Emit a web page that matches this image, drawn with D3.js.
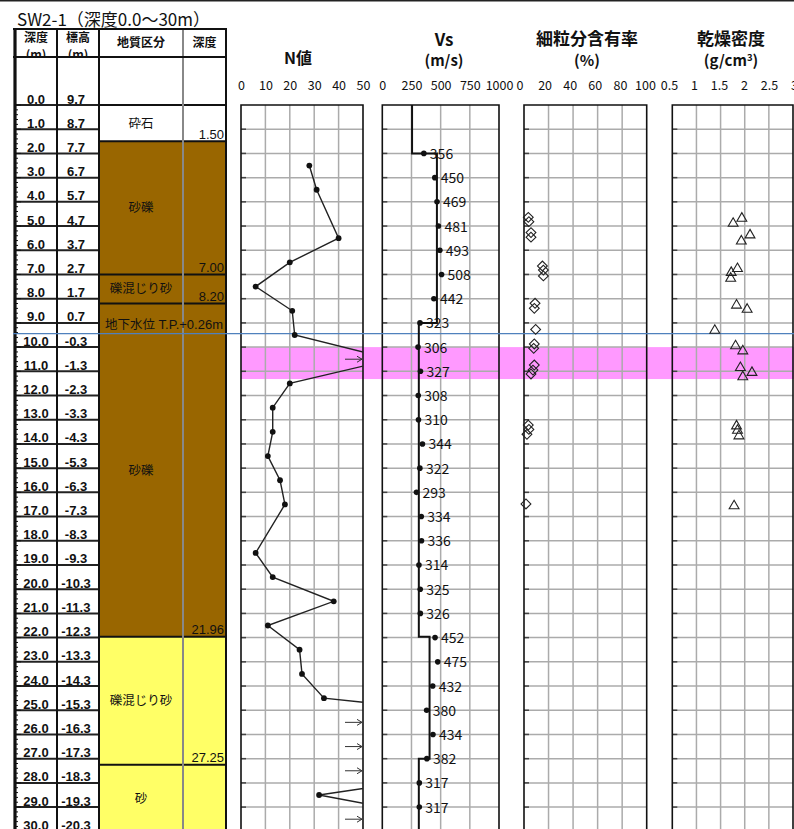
<!DOCTYPE html>
<html>
<head>
<meta charset="utf-8">
<script src="https://cdn.jsdelivr.net/npm/d3@7"></script>
<style>
body { margin: 0; background: #fff; }
svg { display: block; }
text { font-family: "Noto Sans CJK JP", "Noto Sans", sans-serif; fill: #111; }
.num { font-family: "Liberation Sans", Arial, sans-serif; }
.lbl { font-family: "Open Sans", sans-serif; }
</style>
</head>
<body>
<div id="chart"></div>
<script>
var title = "SW2-1（深度0.0～30m）";

var depthLabels = ["0.0","1.0","2.0","3.0","4.0","5.0","6.0","7.0","8.0","9.0","10.0",
  "11.0","12.0","13.0","14.0","15.0","16.0","17.0","18.0","19.0","20.0",
  "21.0","22.0","23.0","24.0","25.0","26.0","27.0","28.0","29.0","30.0"];
var elevLabels = ["9.7","8.7","7.7","6.7","5.7","4.7","3.7","2.7","1.7","0.7","-0.3",
  "-1.3","-2.3","-3.3","-4.3","-5.3","-6.3","-7.3","-8.3","-9.3","-10.3",
  "-11.3","-12.3","-13.3","-14.3","-15.3","-16.3","-17.3","-18.3","-19.3","-20.3"];

// geology
var layerTop    = [0, 1.5, 7.0, 8.2, 21.96, 27.25];
var layerBottom = [1.5, 7.0, 8.2, 21.96, 27.25, 30];
var layerName   = ["砕石", "砂礫", "礫混じり砂", "砂礫", "礫混じり砂", "砂"];
var layerDepthText = ["1.50", "7.00", "8.20", "21.96", "27.25", ""];

var waterDepth = 9.44;
var waterText = ["地下水位", "T.P.+0.26m"];
var bandTop = 10.0, bandBottom = 11.32;

// N value
var nDepth = [2.5, 3.5, 5.5, 6.5, 7.5, 8.5, 9.5, 10.5, 11.5, 12.5, 13.5, 14.5, 15.5, 16.5,
  18.5, 19.5, 20.5, 21.5, 22.5, 23.5, 24.5, 25.5, 26.5, 27.5, 28.5, 29.5];
var nValue = [28, 31, 40, 20, 6, 21, 22, 62, 20, 13, 13, 11, 16, 18,
  6, 13, 38, 11, 24, 25, 34, 130, 130, 100, 32, 85];
var nTicks = [0, 10, 20, 30, 40, 50];

// Vs
var vsDepth = [2, 3, 4, 5, 6, 7, 8, 9, 10, 11, 12, 13, 14, 15, 16, 17, 18, 19, 20, 21,
  22, 23, 24, 25, 26, 27, 28, 29];
var vsValue = [356, 450, 469, 481, 493, 508, 442, 323, 306, 327, 308, 310, 344, 322,
  293, 334, 336, 314, 325, 326, 452, 475, 432, 380, 434, 382, 317, 317];
var vsStepTop   = [0, 2, 9, 21.96, 27, 30];
var vsStepValue = [255, 468, 313, 405, 313, 313];
var vsTicks = [0, 250, 500, 750, 1000];

// fines content (%)
var fcDepth = [4.64, 4.82, 5.27, 5.46, 6.65, 6.82, 7.06, 8.19, 8.4, 9.27, 9.87, 10.05,
  10.74, 10.95, 11.11, 13.22, 13.4, 13.6, 16.48];
var fcValue = [3.5, 4.0, 5.7, 5.7, 15, 15.8, 15.8, 9, 8.4, 9.5, 8.4, 7.9,
  8.4, 7.3, 5.7, 3.5, 4.0, 2.4, 1.6];
var fcTicks = [0, 20, 40, 60, 80, 100];

// dry density (g/cm3)
var rhoDepth = [4.64, 4.85, 5.33, 5.58, 6.72, 6.88, 7.12, 8.23, 8.4, 9.27, 9.91, 10.12,
  10.81, 11.01, 11.19, 13.22, 13.4, 13.63, 16.52];
var rhoValue = [1.94, 1.76, 2.11, 1.93, 1.85, 1.72, 1.71, 1.83, 2.05, 1.38, 1.81, 1.96,
  1.91, 2.15, 1.96, 1.83, 1.85, 1.88, 1.78];
var rhoTicks = [0.5, 1, 1.5, 2, 2.5, 3];

// ---- layout ----
var width = 794, height = 829;
var layerFill = ["#ffffff", "#996600", "#996600", "#996600", "#ffff66", "#ffff66"];

var svg = d3.select("#chart").append("svg")
  .attr("width", width)
  .attr("height", height);

var y = d3.scaleLinear().domain([0, 30]).range([105, 831.3]);

var xN   = d3.scaleLinear().domain([0, 50]).range([241, 363]);
var xVs  = d3.scaleLinear().domain([0, 1000]).range([382.3, 499]);
var xFc  = d3.scaleLinear().domain([0, 100]).range([524, 646.7]);
var xRho = d3.scaleLinear().domain([0.5, 3]).range([672.3, 793]);
// tick labels of the last two panels sit a little off the grid
var xFcLab  = d3.scaleLinear().domain([0, 100]).range([519.5, 645]);
var xRhoLab = d3.scaleLinear().domain([0.5, 3]).range([669, 794]);

var depthNums = depthLabels.map(Number);

// top rule
svg.append("line").attr("x1", 0).attr("x2", width).attr("y1", 0.75).attr("y2", 0.75)
  .attr("stroke", "#222").attr("stroke-width", 1.5);

svg.append("text").attr("x", 17).attr("y", 26)
  .attr("font-size", 17).attr("textLength", 193).attr("lengthAdjust", "spacingAndGlyphs")
  .text(title);

// ---- left table ----
var tbl = svg.append("g");

tbl.selectAll("rect.layer")
  .data(layerTop).enter()
  .append("rect")
  .attr("class", "layer")
  .attr("x", 99).attr("width", 127)
  .attr("y", function(d) { return y(d); })
  .attr("height", function(d, i) { return y(layerBottom[i]) - y(d); })
  .attr("fill", function(d, i) { return layerFill[i]; });

// row lines in depth / elevation columns
tbl.selectAll("line.row")
  .data(depthNums.slice(0, 30)).enter()
  .append("line")
  .attr("x1", 14).attr("x2", 99)
  .attr("y1", function(d) { return y(d); })
  .attr("y2", function(d) { return y(d); })
  .attr("stroke", "#222").attr("stroke-width", 2);

// ruler ticks on the left edge
tbl.selectAll("line.rule")
  .data(y.ticks(150)).enter()
  .append("line")
  .attr("x1", 15)
  .attr("x2", function(d) { return Math.abs(d - Math.round(d)) < 1e-6 ? 21 : 18; })
  .attr("y1", function(d) { return y(d); })
  .attr("y2", function(d) { return y(d); })
  .attr("stroke", "#111").attr("stroke-width", 1);

// layer boundaries
tbl.selectAll("line.bound")
  .data([0].concat(layerBottom.slice(0, 5))).enter()
  .append("line")
  .attr("x1", 99).attr("x2", 226)
  .attr("y1", function(d) { return y(d); })
  .attr("y2", function(d) { return y(d); })
  .attr("stroke", "#111").attr("stroke-width", 2);

// column lines
tbl.append("line").attr("x1", 183).attr("x2", 183).attr("y1", 29).attr("y2", height)
  .attr("stroke", "#888").attr("stroke-width", 2);
[[15, 3.2], [57, 2], [99, 2], [226, 2]].forEach(function(c) {
  tbl.append("line").attr("x1", c[0]).attr("x2", c[0]).attr("y1", 28).attr("y2", height)
    .attr("stroke", "#111").attr("stroke-width", c[1]);
});

// header (the unit line is cut by the header's lower rule, as in the print)
svg.append("clipPath").attr("id", "clipHead")
  .append("rect").attr("x", 14).attr("y", 30).attr("width", 212).attr("height", 26);

var head = tbl.append("g").attr("font-size", 12).attr("font-weight", "bold")
  .attr("text-anchor", "middle").attr("clip-path", "url(#clipHead)");
head.append("text").attr("x", 36).attr("y", 42).text("深度");
head.append("text").attr("x", 36).attr("y", 59).text("(m)");
head.append("text").attr("x", 78).attr("y", 42).text("標高");
head.append("text").attr("x", 78).attr("y", 59).text("(m)");
head.append("text").attr("x", 141).attr("y", 47).text("地質区分");
head.append("text").attr("x", 204.5).attr("y", 47).text("深度");

[29, 57].forEach(function(h) {
  tbl.append("line").attr("x1", 13).attr("x2", 227).attr("y1", h).attr("y2", h)
    .attr("stroke", "#111").attr("stroke-width", 2);
});

// depth + elevation labels
tbl.selectAll("text.dep")
  .data(depthLabels).enter()
  .append("text")
  .attr("class", "num")
  .attr("x", 36)
  .attr("y", function(d) { return y(+d) - 1.5; })
  .attr("text-anchor", "middle")
  .attr("font-size", 13).attr("font-weight", "bold")
  .text(function(d) { return d; });

tbl.selectAll("text.elev")
  .data(elevLabels).enter()
  .append("text")
  .attr("class", "num")
  .attr("x", 76)
  .attr("y", function(d, i) { return y(depthNums[i]) - 1.5; })
  .attr("text-anchor", "middle")
  .attr("font-size", 13).attr("font-weight", "bold")
  .text(function(d) { return d; });

// layer names and bottom depths
tbl.selectAll("text.lname")
  .data(layerName).enter()
  .append("text")
  .attr("x", 141)
  .attr("y", function(d, i) {
    var mid = (layerTop[i] + layerBottom[i]) / 2;
    if (i == 3) mid = 15.08;
    return y(mid) + 4.5;
  })
  .attr("text-anchor", "middle")
  .attr("font-size", 12.5)
  .text(function(d) { return d; });

tbl.selectAll("text.ldep")
  .data(layerDepthText).enter()
  .append("text")
  .attr("class", "num")
  .attr("x", 224)
  .attr("y", function(d, i) { return y(layerBottom[i]) - 2.5; })
  .attr("text-anchor", "end")
  .attr("font-size", 13)
  .text(function(d) { return d; });

tbl.append("text").attr("x", 105).attr("y", y(waterDepth) - 4.5)
  .attr("font-size", 12.5).text(waterText[0]);
tbl.append("text").attr("class", "num").attr("x", 223).attr("y", y(waterDepth) - 4.5)
  .attr("text-anchor", "end").attr("font-size", 13).text(waterText[1]);

// ---- panels ----
svg.append("rect")
  .attr("x", xN.range()[0]).attr("width", width - xN.range()[0])
  .attr("y", y(bandTop)).attr("height", y(bandBottom) - y(bandTop))
  .attr("fill", "#ff99ff");

var panels = [
  {x: xN, lab: xN, ticks: nTicks, fmt: d3.format("d")},
  {x: xVs, lab: xVs, ticks: vsTicks, fmt: d3.format("d")},
  {x: xFc, lab: xFcLab, ticks: fcTicks, fmt: d3.format("d")},
  {x: xRho, lab: xRhoLab, ticks: rhoTicks, fmt: d3.format("")}
];

panels.forEach(function(p) {
  var x0 = p.x.range()[0], x1 = p.x.range()[1];
  var g = svg.append("g");

  g.selectAll("line.v")
    .data(p.ticks.slice(1, -1)).enter()
    .append("line")
    .attr("x1", function(d) { return p.x(d); })
    .attr("x2", function(d) { return p.x(d); })
    .attr("y1", y(0)).attr("y2", height)
    .attr("stroke", "#ababab").attr("stroke-width", 1.5);

  g.selectAll("line.h")
    .data(depthNums.slice(1)).enter()
    .append("line")
    .attr("x1", x0).attr("x2", x1)
    .attr("y1", function(d) { return y(d); })
    .attr("y2", function(d) { return y(d); })
    .attr("stroke", "#ababab").attr("stroke-width", 1.5);

  g.selectAll("line.t")
    .data(depthNums.slice(1)).enter()
    .append("line")
    .attr("x1", x0).attr("x2", x0 + 5)
    .attr("y1", function(d) { return y(d); })
    .attr("y2", function(d) { return y(d); })
    .attr("stroke", "#444").attr("stroke-width", 1.5);

  g.append("path")
    .attr("d", "M" + x0 + "," + height + "V" + y(0) + "H" + x1 + "V" + height)
    .attr("fill", "none").attr("stroke", "#111").attr("stroke-width", 1.6);

  var ax = svg.append("g")
    .attr("class", "lbl")
    .attr("transform", "translate(0,90)")
    .call(d3.axisTop(p.lab).tickValues(p.ticks).tickSize(0).tickPadding(0).tickFormat(p.fmt));
  ax.select(".domain").remove();
  ax.selectAll("text").attr("font-family", "Open Sans").attr("font-size", 12.5)
    .attr("fill", "#222").attr("dy", 0);
});

// panel titles
var tt = svg.append("g").attr("font-weight", "bold").attr("text-anchor", "middle");
tt.append("text").attr("x", 298).attr("y", 64).attr("font-size", 16).text("N値");
tt.append("text").attr("x", 444).attr("y", 46).attr("font-size", 17).text("Vs");
tt.append("text").attr("x", 444).attr("y", 66).attr("font-size", 15).text("(m/s)");
tt.append("text").attr("x", 587).attr("y", 45).attr("font-size", 17).text("細粒分含有率");
tt.append("text").attr("x", 587).attr("y", 66).attr("font-size", 15).text("(%)");
tt.append("text").attr("x", 731).attr("y", 45).attr("font-size", 17).text("乾燥密度");
var unit = tt.append("text").attr("x", 731).attr("y", 66).attr("font-size", 15);
unit.append("tspan").text("(g/cm");
unit.append("tspan").attr("font-size", 9.5).attr("dy", -5).text("3");
unit.append("tspan").attr("dy", 5).text(")");

// groundwater line
svg.append("line")
  .attr("x1", 13).attr("x2", width)
  .attr("y1", y(waterDepth)).attr("y2", y(waterDepth))
  .attr("stroke", "#4f81bd").attr("stroke-width", 1.2);

// ---- N value ----
svg.append("clipPath").attr("id", "clipN")
  .append("rect").attr("x", xN(0)).attr("y", y(0))
  .attr("width", xN(50) - xN(0)).attr("height", y(30) - y(0));

var nData = nDepth.map(function(d, i) { return {depth: d, n: nValue[i]}; });

var nLine = d3.line()
  .x(function(d) { return xN(d.n); })
  .y(function(d) { return y(d.depth); });

svg.append("path")
  .datum(nData)
  .attr("clip-path", "url(#clipN)")
  .attr("d", nLine)
  .attr("fill", "none").attr("stroke", "#222").attr("stroke-width", 1.4);

svg.selectAll("circle.n")
  .data(nData.filter(function(d) { return d.n <= 50; })).enter()
  .append("circle")
  .attr("cx", function(d) { return xN(d.n); })
  .attr("cy", function(d) { return y(d.depth); })
  .attr("r", 2.9).attr("fill", "#111");

var arrows = svg.selectAll("g.arrow")
  .data(nData.filter(function(d) { return d.n > 50; })).enter()
  .append("g")
  .attr("transform", function(d) { return "translate(" + (xN(50) - 1) + "," + y(d.depth) + ")"; })
  .attr("stroke", "#333").attr("stroke-width", 1).attr("fill", "none");
arrows.append("path").attr("d", "M-17,0H0M-5,-3L0,0L-5,3");

// ---- Vs ----
var vsStep = d3.line()
  .curve(d3.curveStepBefore)
  .x(function(d, i) { return xVs(vsStepValue[i]); })
  .y(function(d) { return y(d); });

svg.append("path")
  .datum(vsStepTop)
  .attr("d", vsStep)
  .attr("fill", "none").attr("stroke", "#111").attr("stroke-width", 2);

svg.selectAll("circle.vs")
  .data(vsDepth).enter()
  .append("circle")
  .attr("cx", function(d, i) { return xVs(vsValue[i]); })
  .attr("cy", function(d) { return y(d); })
  .attr("r", 2.8).attr("fill", "#111");

svg.selectAll("text.vs")
  .data(vsDepth).enter()
  .append("text")
  .attr("x", function(d, i) { return xVs(vsValue[i]) + 6; })
  .attr("y", function(d) { return y(d) + 5.5; })
  .attr("font-family", "Open Sans").attr("font-size", 14)
  .text(function(d, i) { return vsValue[i]; });

// ---- fines content ----
svg.selectAll("path.fc")
  .data(fcDepth).enter()
  .append("path")
  .attr("d", d3.symbol(d3.symbolSquare, 48))
  .attr("transform", function(d, i) {
    return "translate(" + xFc(fcValue[i]) + "," + y(d) + ") rotate(45)";
  })
  .attr("fill", "none").attr("stroke", "#222").attr("stroke-width", 1.1);

// ---- dry density ----
svg.selectAll("path.rho")
  .data(rhoDepth).enter()
  .append("path")
  .attr("d", d3.symbol(d3.symbolTriangle, 42))
  .attr("transform", function(d, i) {
    return "translate(" + xRho(rhoValue[i]) + "," + (y(d) + 1) + ")";
  })
  .attr("fill", "none").attr("stroke", "#222").attr("stroke-width", 1.1);
</script>
</body>
</html>
